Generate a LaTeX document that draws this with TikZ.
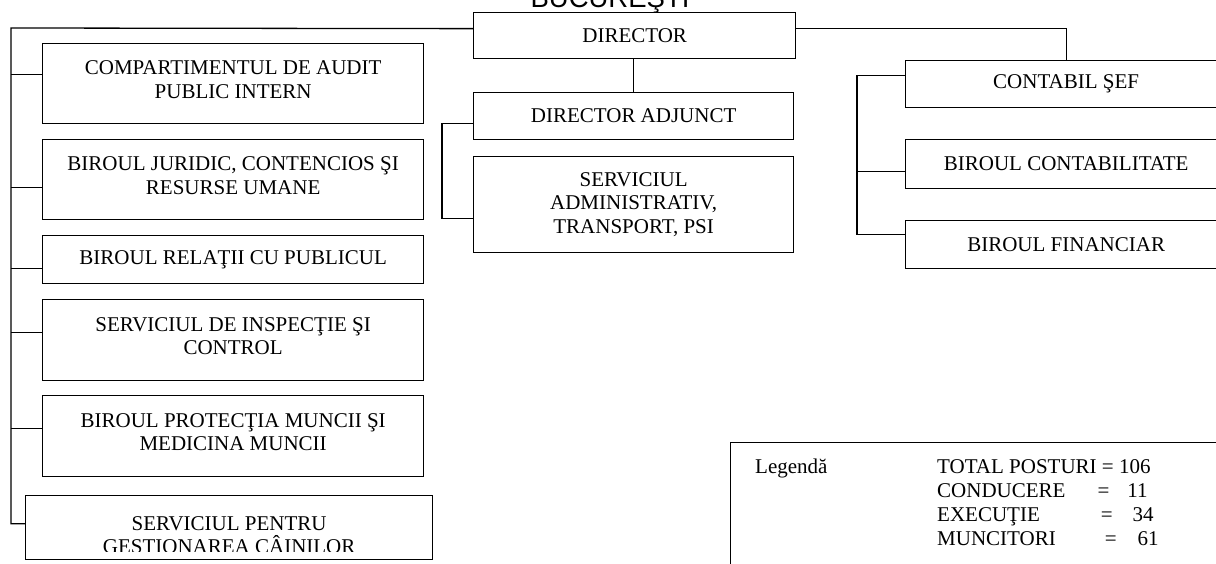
\documentclass[tikz,border=0pt]{standalone}
\usepackage{fontspec}
\setmainfont{Liberation Serif}
\newfontfamily\titlufont{Liberation Sans}
\newcommand{\cutiefont}{\fontsize{21}{23.5}\selectfont}

\tikzset{
  box/.style={draw, line width=1.3pt, rectangle, inner sep=0pt, anchor=north west, align=center, font=\cutiefont},
  sus/.style={text depth=8pt},
  conn/.style={line width=1.3pt},
  legtext/.style={anchor=base west, inner sep=0pt, font=\cutiefont}
}

\begin{document}
\begin{tikzpicture}[x=1pt, y=-1pt]
\useasboundingbox (0,0) rectangle (1216,564);

\node[anchor=base, inner sep=0pt, font=\titlufont\fontsize{27.5}{30}\selectfont] (oras) at (610,8) {BUCUREŞTI};

\node[box, minimum width=322, minimum height=46] (director) at (473,12) {DIRECTOR};

\node[box, sus, minimum width=381, minimum height=80] (audit) at (42,43) {COMPARTIMENTUL DE AUDIT\\PUBLIC INTERN};
\node[box, sus, minimum width=381, minimum height=80] (juridic) at (42,139) {BIROUL JURIDIC, CONTENCIOS ŞI\\RESURSE UMANE};
\node[box, minimum width=381, minimum height=48] (relatii) at (42,235) {BIROUL RELAŢII CU PUBLICUL};
\node[box, sus, minimum width=381, minimum height=81] (inspectie) at (42,299) {SERVICIUL DE INSPECŢIE ŞI\\CONTROL};
\node[box, sus, minimum width=381, minimum height=81] (protectia) at (42,395) {BIROUL PROTECŢIA MUNCII ŞI\\MEDICINA MUNCII};
\node[box, minimum width=407, minimum height=64] (caini) at (25,495) {};
\begin{scope}
  \clip (caini.north west) rectangle ([yshift=9]caini.south east);
  \node[anchor=north, inner sep=0pt, align=center, font=\cutiefont] (cainitext) at ([yshift=-21]caini.north) {SERVICIUL PENTRU\\GESTIONAREA CÂINILOR};
\end{scope}

\node[box, minimum width=320, minimum height=47] (adjunct) at (473,92) {DIRECTOR ADJUNCT};
\node[box, minimum width=320, minimum height=96] (administrativ) at (473,156) {SERVICIUL\\ADMINISTRATIV,\\TRANSPORT, PSI};

\node[box, minimum width=321, minimum height=47] (contabil) at (905,60) {CONTABIL ŞEF};
\node[box, minimum width=321, minimum height=49] (contabilitate) at (905,139) {BIROUL CONTABILITATE};
\node[box, minimum width=321, minimum height=48] (financiar) at (905,220) {BIROUL FINANCIAR};

\node[box, minimum width=500, minimum height=130] (legenda) at (730,442) {};
\node[legtext] (legtitlu) at (755,473) {Legendă};
\node[legtext] (total) at (937,473) {TOTAL POSTURI = 106};
\node[legtext] (conducere) at (937,497) {CONDUCERE\hspace{32pt}=\hspace{18pt}11};
\node[legtext] (executie) at (937,521) {EXECUŢIE\hspace{61pt}=\hspace{20pt}34};
\node[legtext] (muncitori) at (937,545) {MUNCITORI\hspace{49pt}=\hspace{21pt}61};

\coordinate (stanga) at (11,28);
\coordinate (mijloc) at (442,0);
\coordinate (dreapta) at (857,0);

\draw[conn] ([yshift=7]director.west) -- (stanga) |- ([yshift=4]caini.west);
\foreach \n/\s in {audit/9, juridic/-8, relatii/-9, inspectie/7.5, protectia/7.5} {
  \coordinate (k\n) at ([yshift=\s]\n.west);
  \draw[conn] (stanga |- k\n) -- (k\n);
}

\draw[conn] (adjunct.north) -- (adjunct.north |- director.south);
\coordinate (m1) at ([yshift=-7.5]adjunct.west);
\coordinate (m2) at ([yshift=-14]administrativ.west);
\draw[conn] (m1) -- (mijloc |- m1) -- (mijloc |- m2) -- (m2);

\draw[conn] ([yshift=7]director.east) -| (contabil.north);
\coordinate (d1) at ([yshift=8.5]contabil.west);
\coordinate (d2) at ([yshift=-7.5]contabilitate.west);
\coordinate (d3) at ([yshift=10]financiar.west);
\draw[conn] (d1) -- (dreapta |- d1) -- (dreapta |- d3) -- (d3);
\draw[conn] (dreapta |- d2) -- (d2);
\end{tikzpicture}
\end{document}
